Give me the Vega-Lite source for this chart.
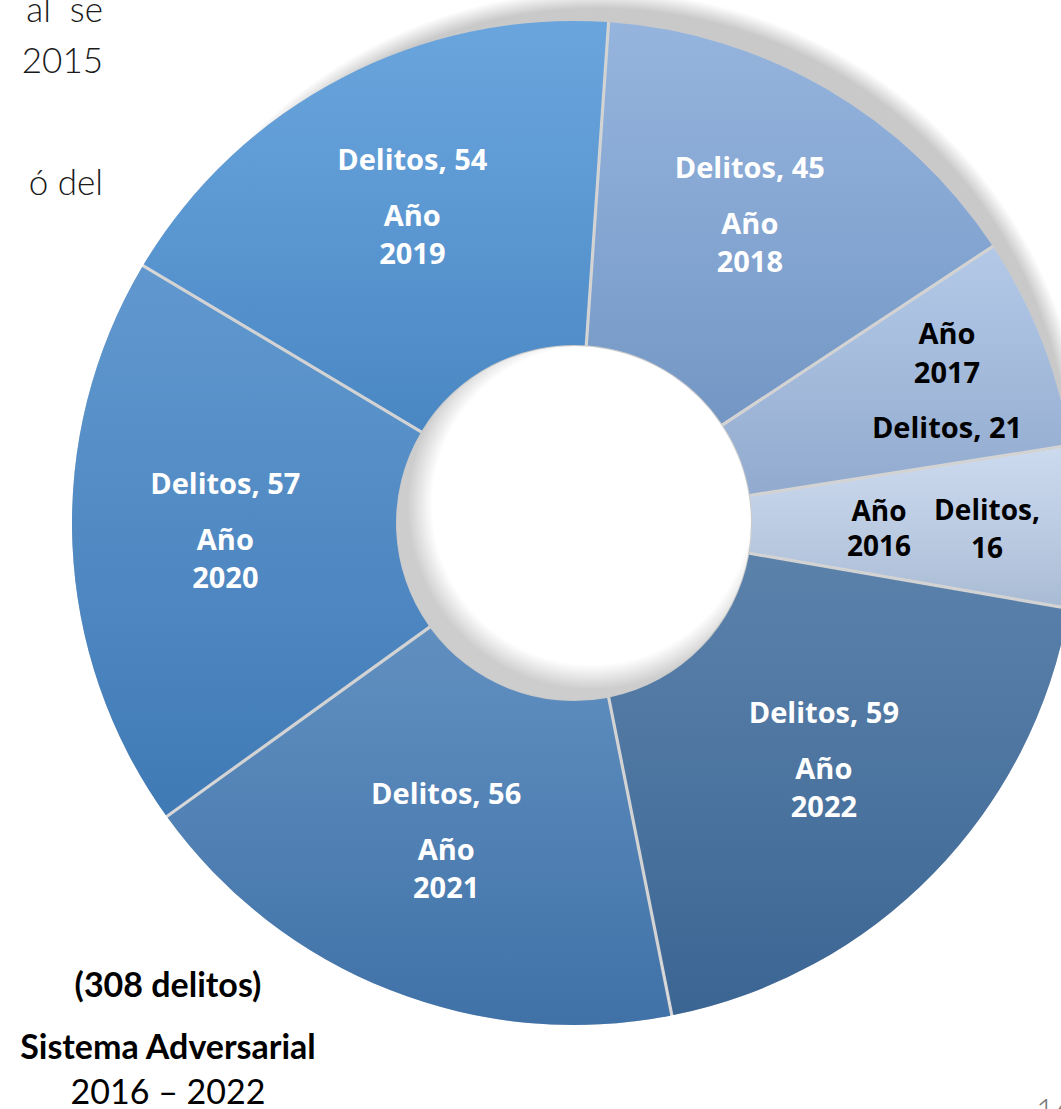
{
  "$schema": "https://vega.github.io/schema/vega-lite/v6.json",
  "width": 1148,
  "height": 1046,
  "autosize": {"type": "none"},
  "padding": {"left": 0, "top": 0, "right": -87, "bottom": 63},
  "background": "white",
  "config": {"view": {"stroke": null}},
  "layer": [
    {
      "data": {"values": [{}]},
      "mark": {
        "type": "arc", "theta": 0, "theta2": 6.2832, "outerRadius": 545, "innerRadius": 0,
        "fill": {"gradient": "radial", "x1": 0.5225, "y1": 0.4611, "r1": 0.433, "x2": 0.5225, "y2": 0.4611, "r2": 0.4495,
          "stops": [{"offset": 0, "color": "#c9c9c9"}, {"offset": 1, "color": "#ffffff"}]}
      },
      "encoding": {}
    },
    {
      "data": {
        "values": [
          {"year": 2016, "delitos": 16},
          {"year": 2017, "delitos": 21},
          {"year": 2018, "delitos": 45},
          {"year": 2019, "delitos": 54},
          {"year": 2020, "delitos": 57},
          {"year": 2021, "delitos": 56},
          {"year": 2022, "delitos": 59}
        ]
      },
      "transform": [
        {"stack": "delitos", "groupby": [], "sort": [{"field": "year", "order": "descending"}], "as": ["s0", "s1"]},
        {"calculate": "(datum.s0 + datum.s1) / 2", "as": "mid"},
        {"calculate": "'Delitos, ' + datum.delitos", "as": "lab_del"},
        {"calculate": "['Año', '' + datum.year]", "as": "lab_year"},
        {"calculate": "['Delitos,', '' + datum.delitos]", "as": "lab_del2"}
      ],
      "encoding": {
        "theta": {"field": "s0", "type": "quantitative", "stack": null, "scale": {"domain": [0, 308], "range": [1.7418, 8.025]}}
      },
      "layer": [
        {
          "mark": {"type": "arc", "outerRadius": 502, "innerRadius": 178, "fill": "#d4d4d4"},
          "encoding": {"theta2": {"field": "s1"}}
        },
        {
          "mark": {"type": "arc", "outerRadius": 502, "innerRadius": 178, "padAngle": 0.006},
          "encoding": {
            "theta2": {"field": "s1"},
            "color": {
              "field": "year", "type": "nominal", "legend": null,
              "scale": {
                "domain": [2016, 2017, 2018, 2019, 2020, 2021, 2022],
                "range": ["#c5d5ec", "#a9c1e4", "#86aad9", "#5598d8", "#4a89c8", "#4a7fb7", "#44709f"]
              }
            }
          }
        },
        {
          "mark": {
            "type": "arc", "outerRadius": 502, "innerRadius": 178, "padAngle": 0.006,
            "fill": {"gradient": "linear", "x1": 0, "y1": 0, "x2": 0, "y2": 1,
              "stops": [{"offset": 0, "color": "rgba(255,255,255,0.12)"}, {"offset": 1, "color": "rgba(0,30,70,0.14)"}]}
          },
          "encoding": {"theta2": {"field": "s1"}}
        },
        {
          "transform": [{"filter": "datum.year >= 2018"}],
          "mark": {"type": "text", "radius": 349, "dy": -53, "font": "Open Sans", "fontWeight": "bold", "fontSize": 29, "fill": "white", "baseline": "middle", "align": "center"},
          "encoding": {"theta": {"field": "mid", "type": "quantitative", "stack": null}, "text": {"field": "lab_del"}}
        },
        {
          "transform": [{"filter": "datum.year >= 2018"}],
          "mark": {"type": "text", "radius": 349, "dy": 3, "lineHeight": 38, "font": "Open Sans", "fontWeight": "bold", "fontSize": 29, "fill": "white", "baseline": "middle", "align": "center"},
          "encoding": {"theta": {"field": "mid", "type": "quantitative", "stack": null}, "text": {"field": "lab_year"}}
        },
        {
          "transform": [{"filter": "datum.year == 2017"}],
          "mark": {"type": "text", "radius": 400, "dy": -44, "lineHeight": 39, "font": "Open Sans", "fontWeight": "bold", "fontSize": 29, "fill": "black", "baseline": "middle", "align": "center"},
          "encoding": {"theta": {"field": "mid", "type": "quantitative", "stack": null}, "text": {"field": "lab_year"}}
        },
        {
          "transform": [{"filter": "datum.year == 2017"}],
          "mark": {"type": "text", "radius": 400, "dy": 50, "font": "Open Sans", "fontWeight": "bold", "fontSize": 29, "fill": "black", "baseline": "middle", "align": "center"},
          "encoding": {"theta": {"field": "mid", "type": "quantitative", "stack": null}, "text": {"field": "lab_del"}}
        },
        {
          "transform": [{"filter": "datum.year == 2016"}],
          "mark": {"type": "text", "radius": 356, "dx": -51, "dy": -13, "lineHeight": 35, "font": "Open Sans", "fontWeight": "bold", "fontSize": 28, "fill": "black", "baseline": "middle", "align": "center"},
          "encoding": {"theta": {"field": "mid", "type": "quantitative", "stack": null}, "text": {"field": "lab_year"}}
        },
        {
          "transform": [{"filter": "datum.year == 2016"}],
          "mark": {"type": "text", "radius": 356, "dx": 57, "dy": -14, "lineHeight": 38, "font": "Open Sans", "fontWeight": "bold", "fontSize": 28, "fill": "black", "baseline": "middle", "align": "center"},
          "encoding": {"theta": {"field": "mid", "type": "quantitative", "stack": null}, "text": {"field": "lab_del2"}}
        }
      ]
    },
    {
      "data": {"values": [{}]},
      "mark": {
        "type": "arc", "theta": 0, "theta2": 6.2832, "outerRadius": 177, "innerRadius": 0,
        "fill": {"gradient": "radial", "x1": 0.55, "y1": 0.45, "r1": 0.45, "x2": 0.55, "y2": 0.45, "r2": 0.52,
          "stops": [{"offset": 0, "color": "#ffffff"}, {"offset": 1, "color": "#cdcdcd"}]}
      },
      "encoding": {}
    },
    {
      "data": {"values": [{}]},
      "mark": {"type": "text", "text": "(308 delitos)", "x": 168, "y": 997, "align": "center", "baseline": "alphabetic", "font": "Lato", "fontWeight": "bold", "fontSize": 34, "fill": "black"},
      "encoding": {}
    },
    {
      "data": {"values": [{}]},
      "mark": {"type": "text", "text": "Sistema Adversarial", "x": 168, "y": 1059, "align": "center", "baseline": "alphabetic", "font": "Lato", "fontWeight": "bold", "fontSize": 34, "fill": "black"},
      "encoding": {}
    },
    {
      "data": {"values": [{}]},
      "mark": {"type": "text", "text": "2016 – 2022", "x": 168, "y": 1104, "align": "center", "baseline": "alphabetic", "font": "Lato", "fontWeight": "normal", "fontSize": 34, "fill": "black"},
      "encoding": {}
    },
    {
      "data": {"values": [{}]},
      "mark": {"type": "text", "text": "al\u00a0\u00a0se", "x": 103, "y": 22, "align": "right", "baseline": "alphabetic", "font": "Lato", "fontWeight": 300, "fontSize": 35, "fill": "#1a1a1a"},
      "encoding": {}
    },
    {
      "data": {"values": [{}]},
      "mark": {"type": "text", "text": "2015", "x": 103, "y": 73, "align": "right", "baseline": "alphabetic", "font": "Lato", "fontWeight": 300, "fontSize": 35, "fill": "#1a1a1a"},
      "encoding": {}
    },
    {
      "data": {"values": [{}]},
      "mark": {"type": "text", "text": "ó del", "x": 103, "y": 195, "align": "right", "baseline": "alphabetic", "font": "Lato", "fontWeight": 300, "fontSize": 35, "fill": "#1a1a1a"},
      "encoding": {}
    },
    {
      "data": {"values": [{}]},
      "mark": {"type": "text", "text": "16", "x": 1036, "y": 1121, "align": "left", "baseline": "alphabetic", "font": "Lato", "fontWeight": 300, "fontSize": 32, "fill": "#777777"},
      "encoding": {}
    }
  ]
}
